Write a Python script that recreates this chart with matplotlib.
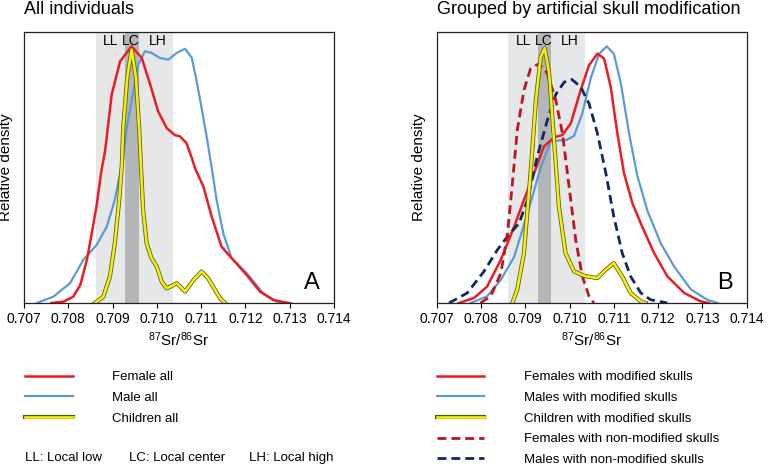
import matplotlib
matplotlib.use('Agg')
import matplotlib.pyplot as plt
import matplotlib.patheffects as pe
from matplotlib.transforms import ScaledTranslation

plt.rcParams['font.family'] = ['Liberation Sans', 'DejaVu Sans']
plt.rcParams['mathtext.fontset'] = 'custom'
plt.rcParams['mathtext.rm'] = 'Liberation Sans'
plt.rcParams['mathtext.default'] = 'regular'

# local range (87Sr/86Sr)
LOCAL_LOW = 0.70862
LOCAL_HIGH = 0.71036
CENTER_LOW = 0.70928
CENTER_HIGH = 0.70959
RANGE_NAMES = ['LL', 'LC', 'LH']
RANGE_LABEL_X = [0.70896, 0.70942, 0.71001]
X_TICKS = [0.707, 0.708, 0.709, 0.710, 0.711, 0.712, 0.713, 0.714]

# Panel A - all individuals (relative density)
female_all_x = [0.70762, 0.70789, 0.70811, 0.70827, 0.70842, 0.70853, 0.70864, 0.70875,
                0.70883, 0.70898, 0.70917, 0.70943, 0.70966, 0.70985, 0.71003, 0.71022,
                0.71041, 0.71052, 0.71067, 0.71079, 0.71086, 0.71105, 0.71124, 0.71146,
                0.71169, 0.71203, 0.71233, 0.71263, 0.71297]
female_all_y = [0, 0.005, 0.023, 0.066, 0.159, 0.257, 0.36, 0.49,
                0.56, 0.769, 0.892, 0.947, 0.904, 0.806, 0.707, 0.646,
                0.619, 0.615, 0.59, 0.535, 0.498, 0.43, 0.318, 0.208,
                0.165, 0.103, 0.042, 0.011, 0]

male_all_x = [0.70729, 0.70766, 0.70804, 0.70834, 0.70864, 0.70887, 0.70905, 0.70917,
              0.70923, 0.70932, 0.70947, 0.70958, 0.70973, 0.70988, 0.71007, 0.71026,
              0.71045, 0.71064, 0.71079, 0.71090, 0.71101, 0.71113, 0.71124, 0.71135,
              0.71150, 0.71169, 0.71203, 0.71240, 0.71271, 0.71304]
male_all_y = [0, 0.023, 0.073, 0.159, 0.214, 0.282, 0.38, 0.479,
              0.52, 0.646, 0.781, 0.879, 0.929, 0.923, 0.904, 0.898,
              0.923, 0.938, 0.904, 0.818, 0.72, 0.609, 0.498, 0.38,
              0.257, 0.165, 0.11, 0.036, 0.005, 0]

children_all_x = [0.70860, 0.70879, 0.70894, 0.70905, 0.70915, 0.70921, 0.70924, 0.70933,
                  0.70943, 0.70953, 0.70960, 0.70964, 0.70969, 0.70977, 0.70988, 0.71000,
                  0.71011, 0.71022, 0.71034, 0.71045, 0.71064, 0.71083, 0.71101, 0.71116,
                  0.71127, 0.71143, 0.71154]
children_all_y = [0, 0.023, 0.097, 0.22, 0.38, 0.51, 0.646, 0.83,
                  0.935, 0.83, 0.646, 0.51, 0.343, 0.22, 0.165, 0.134,
                  0.079, 0.054, 0.063, 0.073, 0.042, 0.085, 0.116, 0.091,
                  0.06, 0.017, 0]

# Panel B - grouped by skull modification
female_mod_x = [0.70750, 0.70784, 0.70814, 0.70845, 0.70875, 0.70897, 0.70920, 0.70942,
                0.70965, 0.70984, 0.71003, 0.71025, 0.71044, 0.71063, 0.71078, 0.71093,
                0.71108, 0.71123, 0.71142, 0.71164, 0.71191, 0.71221, 0.71259, 0.71296,
                0.71315]
female_mod_y = [0, 0.018, 0.061, 0.16, 0.282, 0.38, 0.479, 0.577,
                0.611, 0.62, 0.663, 0.785, 0.877, 0.92, 0.902, 0.798,
                0.626, 0.479, 0.368, 0.282, 0.184, 0.098, 0.037, 0.006,
                0]

male_mod_x = [0.70777, 0.70814, 0.70845, 0.70875, 0.70905, 0.70935, 0.70957, 0.70976,
              0.70991, 0.71010, 0.71029, 0.71048, 0.71067, 0.71084, 0.71100, 0.71116,
              0.71134, 0.71153, 0.71176, 0.71206, 0.71236, 0.71274, 0.71311, 0.71334]
male_mod_y = [0, 0.025, 0.086, 0.17, 0.33, 0.50, 0.595, 0.60,
              0.60, 0.616, 0.70, 0.83, 0.92, 0.947, 0.92, 0.81,
              0.63, 0.47, 0.34, 0.22, 0.135, 0.05, 0.012, 0]

children_mod_x = [0.70871, 0.70882, 0.70897, 0.70912, 0.70924, 0.70935, 0.70944, 0.70954,
                  0.70965, 0.70976, 0.70991, 0.71010, 0.71033, 0.71063, 0.71082, 0.71100,
                  0.71119, 0.71138, 0.71161, 0.71172]
children_mod_y = [0, 0.05, 0.184, 0.479, 0.748, 0.908, 0.94, 0.847,
                  0.601, 0.356, 0.184, 0.117, 0.10, 0.092, 0.123, 0.147,
                  0.098, 0.037, 0.006, 0]

female_nonmod_x = [0.70799, 0.70822, 0.70845, 0.70860, 0.70871, 0.70882, 0.70897, 0.70912,
                   0.70931, 0.70950, 0.70969, 0.70984, 0.70999, 0.71014, 0.71029, 0.71044,
                   0.71055]
female_nonmod_y = [0, 0.025, 0.11, 0.258, 0.442, 0.638, 0.785, 0.865,
                   0.883, 0.847, 0.748, 0.626, 0.429, 0.233, 0.098, 0.025,
                   0]

male_nonmod_x = [0.70728, 0.70769, 0.70807, 0.70837, 0.70863, 0.70886, 0.70905, 0.70927,
                 0.70950, 0.70969, 0.70988, 0.71005, 0.71025, 0.71044, 0.71063, 0.71082,
                 0.71100, 0.71119, 0.71138, 0.71161, 0.71183, 0.71221]
male_nonmod_y = [0, 0.037, 0.117, 0.196, 0.252, 0.294, 0.38, 0.54,
                 0.675, 0.77, 0.815, 0.825, 0.798, 0.736, 0.626, 0.479,
                 0.319, 0.184, 0.098, 0.037, 0.012, 0]

RED = '#ec1c24'
BLUE = '#5b9bd5'
YELLOW = '#f4f00a'
YELLOW_EDGE = '#55551e'
DARK_RED = '#c0141e'
NAVY = '#0f2a5e'
yellow_fx = [pe.Stroke(linewidth=3.0, foreground=YELLOW_EDGE), pe.Normal()]


def setup_axes(ax, title, letter):
    ax.axvspan(LOCAL_LOW, LOCAL_HIGH, color='#e6e7e8', lw=0, zorder=0)
    ax.axvspan(CENTER_LOW, CENTER_HIGH, color='#b4b5b7', lw=0, zorder=0)
    for name, lx in zip(RANGE_NAMES, RANGE_LABEL_X):
        ax.text(lx, 0.968, name, transform=ax.get_xaxis_transform(),
                ha='center', va='center', fontsize=10)
    ax.set_xlim(0.707, 0.714)
    ax.set_ylim(0, 1)
    ax.set_xticks(X_TICKS)
    ax.set_xticklabels(['%.3f' % t for t in X_TICKS], fontsize=10)
    # labels sit slightly right of their ticks in the original
    shift = ScaledTranslation(4 / 100, 0, ax.figure.dpi_scale_trans)
    for lab in ax.get_xticklabels():
        lab.set_transform(lab.get_transform() + shift)
    ax.tick_params(axis='x', direction='out', length=3.5, width=0.8, pad=3)
    ax.tick_params(axis='y', left=False, labelleft=False)
    for sp in ax.spines.values():
        sp.set_linewidth(0.9)
        sp.set_color('#222222')
    ax.set_xlabel(r'$^{87}$Sr/$^{86}$Sr', fontsize=11, labelpad=3)
    ax.set_ylabel('Relative density', fontsize=11, labelpad=8)
    ax.set_title(title, loc='left', fontsize=13, pad=13)
    ax.text(0.93, 0.074, letter, transform=ax.transAxes, ha='center', va='center',
            fontsize=17)


fig = plt.figure(figsize=(7.68, 4.67), dpi=100)
ax1 = fig.add_axes([0.03125, 0.3512, 0.4036, 0.5803])
ax2 = fig.add_axes([0.5686, 0.3512, 0.4036, 0.5803])

setup_axes(ax1, 'All individuals', 'A')
setup_axes(ax2, 'Grouped by artificial skull modification', 'B')

# panel A
l_m, = ax1.plot(male_all_x, male_all_y, color=BLUE, lw=1.6)
l_f, = ax1.plot(female_all_x, female_all_y, color=RED, lw=1.8)
l_c, = ax1.plot(children_all_x, children_all_y, color=YELLOW, lw=1.9,
                path_effects=yellow_fx)

ax1.legend([l_f, l_m, l_c], ['Female all', 'Male all', 'Children all'],
           loc='upper left', bbox_to_anchor=(0.0326, 0.2055),
           bbox_transform=fig.transFigure, frameon=False, fontsize=9.5,
           handlelength=3.6, handletextpad=3.0, labelspacing=0.64,
           borderpad=0, borderaxespad=0)

fig.text(25 / 768, 1 - 458 / 467, 'LL: Local low', fontsize=9.5, va='center')
fig.text(129 / 768, 1 - 458 / 467, 'LC: Local center', fontsize=9.5, va='center')
fig.text(249 / 768, 1 - 458 / 467, 'LH: Local high', fontsize=9.5, va='center')

# panel B
b_m, = ax2.plot(male_mod_x, male_mod_y, color=BLUE, lw=1.6)
b_f, = ax2.plot(female_mod_x, female_mod_y, color=RED, lw=1.8)
b_mn, = ax2.plot(male_nonmod_x, male_nonmod_y, color=NAVY, lw=2, dashes=(3.2, 1.8))
b_fn, = ax2.plot(female_nonmod_x, female_nonmod_y, color=DARK_RED, lw=2, dashes=(3.2, 1.8))
b_c, = ax2.plot(children_mod_x, children_mod_y, color=YELLOW, lw=1.9,
                path_effects=yellow_fx)

ax2.legend([b_f, b_m, b_c, b_fn, b_mn],
           ['Females with modified skulls', 'Males with modified skulls',
            'Children with modified skulls', 'Females with non-modified skulls',
            'Males with non-modified skulls'],
           loc='upper left', bbox_to_anchor=(0.569, 0.2055),
           bbox_transform=fig.transFigure, frameon=False, fontsize=9.5,
           handlelength=3.6, handletextpad=3.0, labelspacing=0.64,
           borderpad=0, borderaxespad=0)

fig.savefig('out.png', dpi=100)
plt.close(fig)
